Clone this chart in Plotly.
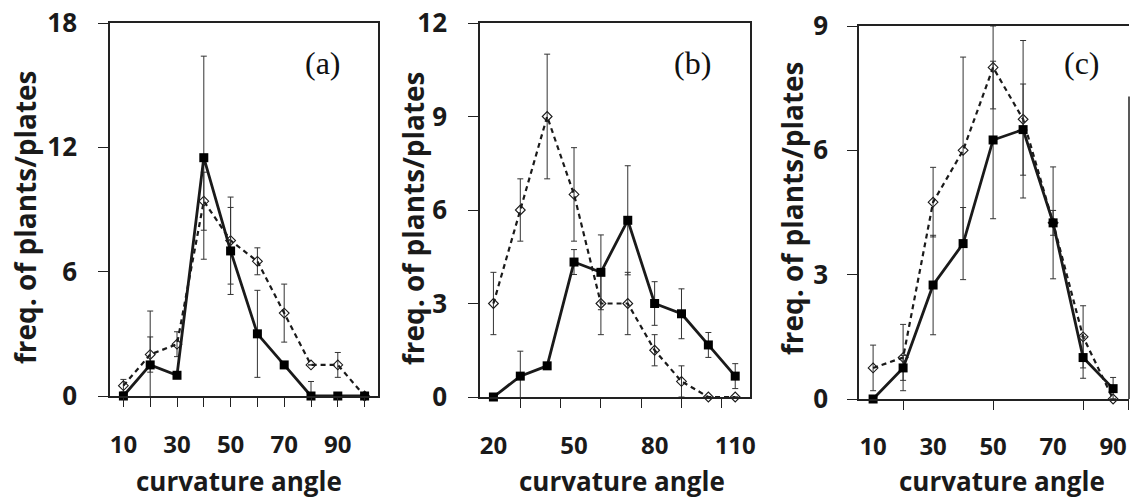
import plotly.graph_objects as go

# ---------------- data ----------------
# panel (a)
a_x = [10, 20, 30, 40, 50, 60, 70, 80, 90, 100]
a_solid = [0, 1.5, 1.0, 11.5, 7.0, 3.0, 1.5, 0, 0, 0]
a_solid_err = [0, 2.6, 0, 4.9, 2.1, 2.1, 0, 0.7, 0, 0]
a_dash = [0.5, 2.0, 2.5, 9.4, 7.5, 6.5, 4.0, 1.5, 1.5, 0]
a_dash_err = [0.3, 0.85, 0.6, 1.4, 2.1, 0.65, 1.4, 0, 0.6, 0]
a_ticks = [10, 30, 50, 70, 90]

# panel (b)
b_x = [20, 30, 40, 50, 60, 70, 80, 90, 100, 110]
b_solid = [0, 0.67, 1.0, 4.33, 4.0, 5.67, 3.0, 2.67, 1.67, 0.67]
b_solid_err = [0, 0.8, 0, 0.4, 1.2, 1.75, 0.7, 0.8, 0.4, 0.4]
b_dash = [3.0, 6.0, 9.0, 6.5, 3.0, 3.0, 1.5, 0.5, 0, 0]
b_dash_err = [1.0, 1.0, 2.0, 1.5, 1.0, 1.0, 0.5, 0.5, 0, 0]
b_ticks = [20, 50, 80, 110]

# panel (c)
c_x = [10, 20, 30, 40, 50, 60, 70, 80, 90]
c_solid = [0, 0.75, 2.75, 3.75, 6.25, 6.5, 4.25, 1.0, 0.25]
c_solid_err = [0, 0.3, 1.2, 0.87, 1.9, 1.1, 1.35, 0.5, 0.27]
c_dash = [0.75, 1.0, 4.75, 6.0, 8.0, 6.75, 4.25, 1.5, 0]
c_dash_err = [0.55, 0.8, 0.84, 2.25, 1.0, 1.9, 0.3, 0.75, 0]
c_ticks = [10, 30, 50, 70, 90]

panel_labels = ["(a)", "(b)", "(c)"]
y_title = "freq. of plants/plates"
x_title = "curvature angle"

SANS = "Open Sans"
SERIF = "Liberation Serif"
INK = "#1a1a1a"

fig = go.Figure()

panels = [
    (a_x, a_solid, a_solid_err, a_dash, a_dash_err, "x", "y"),
    (b_x, b_solid, b_solid_err, b_dash, b_dash_err, "x2", "y2"),
    (c_x, c_solid, c_solid_err, c_dash, c_dash_err, "x3", "y3"),
]

for xs, sv, se, dv, de, xa, ya in panels:
    fig.add_trace(go.Scatter(
        x=xs, y=dv, xaxis=xa, yaxis=ya, mode="lines+markers",
        line=dict(color=INK, width=2.2, dash="5px,4px"),
        marker=dict(symbol="diamond-open", size=7.5, color=INK, line=dict(width=1.1, color="#333")),
        error_y=dict(type="data", array=de, visible=True, color="#333", thickness=1, width=3),
        cliponaxis=False, showlegend=False,
    ))
    fig.add_trace(go.Scatter(
        x=xs, y=sv, xaxis=xa, yaxis=ya, mode="lines+markers",
        line=dict(color=INK, width=2.8),
        marker=dict(symbol="square", size=9, color="#000"),
        error_y=dict(type="data", array=se, visible=True, color="#333", thickness=1, width=3),
        cliponaxis=False, showlegend=False,
    ))

W, H = 1132, 500

def px(v):
    return v / W

def py(v):
    return 1 - v / H

tickfont_y = dict(family=SANS, size=26, color=INK, weight="bold")
tickfont_x = dict(family=SANS, size=24, color=INK, weight="bold")

axis_common = dict(showgrid=False, zeroline=False, linecolor="#222", linewidth=1.5,
                   ticks="outside", tickcolor="#222", tickwidth=1.3, automargin=False)

fig.update_layout(
    xaxis=dict(axis_common, domain=[px(110), px(378)], range=[5, 105], anchor="y",
               tickmode="array", tickvals=a_x,
               ticktext=[str(v) if v in a_ticks else "" for v in a_x],
               ticklen=9, tickfont=tickfont_x, ticklabelstandoff=17, mirror=True),
    xaxis2=dict(axis_common, domain=[px(480), px(750)], range=[15, 115.5], anchor="y2",
                tickmode="array", tickvals=b_ticks, ticks="",
                minor=dict(tickvals=[30, 45, 60, 75, 90, 105], ticks="outside", ticklen=9,
                           tickcolor="#222", tickwidth=1.3, showgrid=False),
                tickfont=tickfont_x, ticklabelstandoff=26, mirror=True),
    xaxis3=dict(axis_common, domain=[px(859), px(1129)], range=[5.3, 95.3], anchor="y3",
                tickmode="array", tickvals=c_ticks, ticks="",
                minor=dict(tickvals=[20, 50, 80, 95], ticks="outside", ticklen=9,
                           tickcolor="#222", tickwidth=1.3, showgrid=False),
                tickfont=tickfont_x, ticklabelstandoff=25, mirror=True),
    yaxis=dict(axis_common, domain=[py(396), py(23)], range=[0, 18], anchor="x",
               tickvals=[0, 6, 12, 18], ticklen=10, tickfont=tickfont_y,
               ticklabelstandoff=16, mirror=True),
    yaxis2=dict(axis_common, domain=[py(397), py(23)], range=[0, 12], anchor="x2",
                tickvals=[0, 3, 6, 9, 12], ticklen=10, tickfont=tickfont_y,
                ticklabelstandoff=16, mirror=True),
    yaxis3=dict(axis_common, domain=[py(399), py(26)], range=[0, 9], anchor="x3",
                tickvals=[0, 3, 6, 9], ticklen=10, tickfont=tickfont_y,
                ticklabelstandoff=14, mirror=False),
)

# partial right border of panel (c)
fig.add_shape(type="line", xref="x3 domain", yref="y3", x0=1, x1=1, y0=0, y1=7.3,
              line=dict(color="#222", width=1.5), layer="above")

# axis titles and panel labels as annotations
ytitle_pos = [(25, 217), (413, 218), (792, 208)]
xtitle_pos = [(239, 481), (622, 481), (1002, 481)]
label_pos = [(323, 63), (692, 63), (1082, 63)]

for i in range(3):
    fig.add_annotation(text=y_title, xref="paper", yref="paper",
                       x=px(ytitle_pos[i][0]), y=py(ytitle_pos[i][1]),
                       textangle=-90, showarrow=False, xanchor="center", yanchor="middle",
                       font=dict(family=SANS, size=28, color=INK, weight="bold"))
    fig.add_annotation(text=x_title, xref="paper", yref="paper",
                       x=px(xtitle_pos[i][0]), y=py(xtitle_pos[i][1]),
                       showarrow=False, xanchor="center", yanchor="middle",
                       font=dict(family=SANS, size=26, color=INK, weight="bold"))
    fig.add_annotation(text=panel_labels[i], xref="paper", yref="paper",
                       x=px(label_pos[i][0]), y=py(label_pos[i][1]),
                       showarrow=False, xanchor="center", yanchor="middle",
                       font=dict(family=SERIF, size=32, color="#111"))

fig.update_layout(width=W, height=H, margin=dict(l=0, r=0, t=0, b=0),
                  paper_bgcolor="white", plot_bgcolor="white")

fig.write_html("out.html")
